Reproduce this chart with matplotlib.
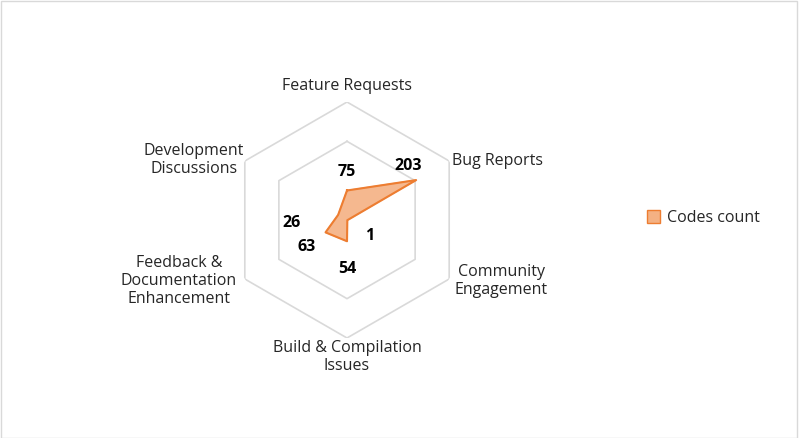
import numpy as np
import matplotlib.pyplot as plt
from matplotlib.patches import Rectangle, Patch

categories = ["Feature Requests", "Bug Reports", "Community\nEngagement",
              "Build & Compilation\nIssues", "Feedback &\nDocumentation\nEnhancement",
              "Development\nDiscussions"]
counts = [75, 203, 1, 54, 63, 26]
rings = [200, 300]

plt.rcParams["font.family"] = ["Open Sans", "DejaVu Sans"]

fig = plt.figure(figsize=(7.99, 4.38), dpi=100)
fig.patches.append(Rectangle((0.001, 0.001), 0.997, 0.996, transform=fig.transFigure,
                             fill=False, edgecolor="#d9d9d9", linewidth=1))
ax = fig.add_axes([229 / 799, 100 / 438, 236 / 799, 236 / 438], projection="polar")
ax.set_theta_offset(np.pi / 2)
ax.set_theta_direction(-1)
ax.set_ylim(0, 300)
ax.axis("off")

theta = np.arange(len(categories)) * 2 * np.pi / len(categories)
closed = np.append(theta, theta[0])

for r in rings:
    ax.plot(closed, [r] * len(closed), color="#d9d9d9", linewidth=1.2, zorder=1)

vals = np.append(counts, counts[0])
ax.fill(closed, vals, color="#F4B183", alpha=0.9, zorder=2)
ax.plot(closed, vals, color="#ED7D31", linewidth=1.5, zorder=3)

offsets = [(0, 19), (-8, 14), (22, -16), (0, -28), (-19, -15), (-47, -8)]
for t, v, off in zip(theta, counts, offsets):
    ax.annotate(str(v), (t, v), xytext=off, textcoords="offset pixels",
                ha="center", va="center", fontsize=11.5, fontweight="bold", zorder=4)

aligns = ["center", "left", "left", "center", "right", "right"]
pix = [(347, 86), (452, 161), (455, 281), (347, 357), (237, 281), (244, 160)]
for cat, (x, y), ha in zip(categories, pix, aligns):
    fig.text(x / 799, 1 - y / 438, cat, ha=ha, va="center", fontsize=11.5,
             color="#262626", linespacing=1.15, multialignment="center")

fig.legend(handles=[Patch(facecolor="#F4B183", edgecolor="#ED7D31", label="Codes count")],
           loc="center left", bbox_to_anchor=(633 / 799, 1 - 218 / 438), frameon=False,
           fontsize=11.5, handlelength=0.8, handleheight=0.8, handletextpad=0.4,
           labelcolor="#262626")

fig.savefig("out.png", dpi=100)
